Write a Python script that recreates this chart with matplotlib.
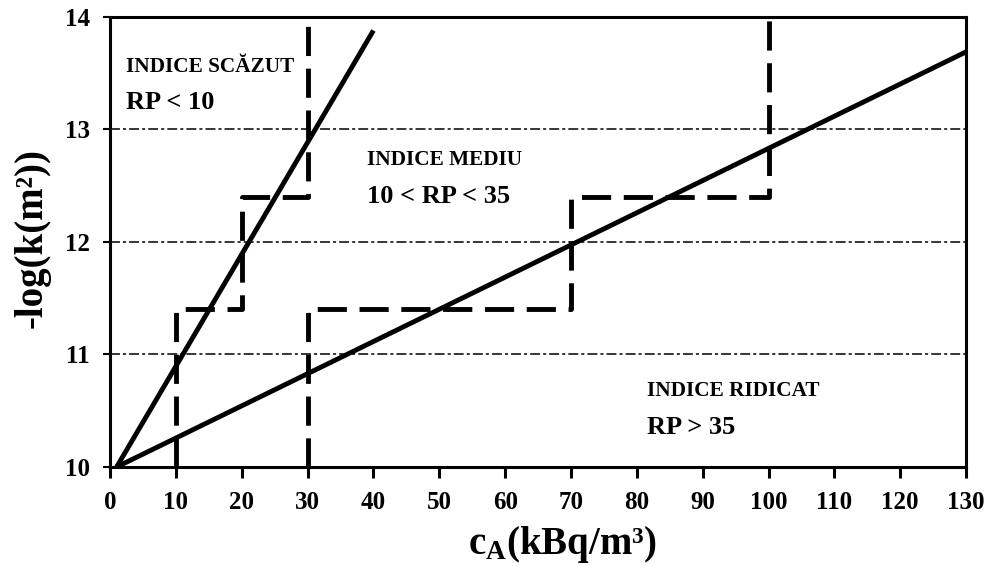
import matplotlib
matplotlib.use("Agg")
import matplotlib.pyplot as plt

plt.rcParams['font.family'] = ['Liberation Serif', 'DejaVu Serif']
plt.rcParams['font.weight'] = 'bold'
plt.rcParams['mathtext.fontset'] = 'custom'
plt.rcParams['mathtext.rm'] = 'Liberation Serif:bold'
plt.rcParams['mathtext.bf'] = 'Liberation Serif:bold'
plt.rcParams['mathtext.it'] = 'Liberation Serif:bold'

# data
line_low_x = [1, 40]
line_low_y = [10, 13.88]
line_high_x = [1, 130]
line_high_y = [10, 13.69]
step_left_x = [10, 10, 20, 20, 30, 30]
step_left_y = [10, 11.4, 11.4, 12.4, 12.4, 14]
step_right_x = [30, 30, 70, 70, 100, 100]
step_right_y = [10, 11.4, 11.4, 12.4, 12.4, 14]
grid_levels = [11, 12, 13]
x_ticks = list(range(0, 131, 10))
y_ticks = [10, 11, 12, 13, 14]

fig = plt.figure(figsize=(9.94, 5.66), dpi=100)
ax = fig.add_axes([0.1107, 0.1749, 0.8612, 0.7951])

for g in grid_levels:
    ax.axhline(g, color='black', lw=1.1, linestyle=(0, (6.5, 2, 2, 2)), zorder=1)

ax.plot(line_low_x, line_low_y, color='black', lw=3.5, solid_capstyle='butt', zorder=3)
ax.plot(line_high_x, line_high_y, color='black', lw=3.5, solid_capstyle='butt', zorder=3)
ax.plot(step_left_x, step_left_y, color='black', lw=3.5, linestyle=(0, (6, 2.6)), zorder=2)
ax.plot(step_right_x, step_right_y, color='black', lw=3.5, linestyle=(0, (6, 2.6)), zorder=2)

ax.set_xlim(0, 130)
ax.set_ylim(10, 14)
ax.set_xticks(x_ticks)
ax.set_yticks(y_ticks)
ax.tick_params(axis='x', direction='out', length=8, width=2.2, labelsize=18, pad=9)
ax.tick_params(axis='y', direction='out', length=5, width=1.5, labelsize=18, pad=9.5)
for lab in ax.get_xticklabels() + ax.get_yticklabels():
    lab.set_fontweight('bold')
for s in ax.spines.values():
    s.set_linewidth(2.2)

ax.set_xlabel('c$_\\mathregular{A}$(kBq/m³)', fontsize=28, fontweight='bold', va='center')
ax.xaxis.set_label_coords(0.528, -0.173)
ax.set_ylabel('-log(k(m²))', fontsize=28, fontweight='bold', va='center')
ax.yaxis.set_label_coords(-0.091, 0.509)

ax.text(2.5, 13.556, 'INDICE SCĂZUT', fontsize=15.3, fontweight='bold', va='center')
ax.text(2.5, 13.236, 'RP < 10', fontsize=19, fontweight='bold', va='center')
ax.text(39, 12.73, 'INDICE MEDIU', fontsize=15.3, fontweight='bold', va='center')
ax.text(39, 12.40, '10 < RP < 35', fontsize=19, fontweight='bold', va='center')
ax.text(81.5, 10.68, 'INDICE RIDICAT', fontsize=15.3, fontweight='bold', va='center')
ax.text(81.5, 10.35, 'RP > 35', fontsize=19, fontweight='bold', va='center')

fig.savefig('out.png', dpi=100)
